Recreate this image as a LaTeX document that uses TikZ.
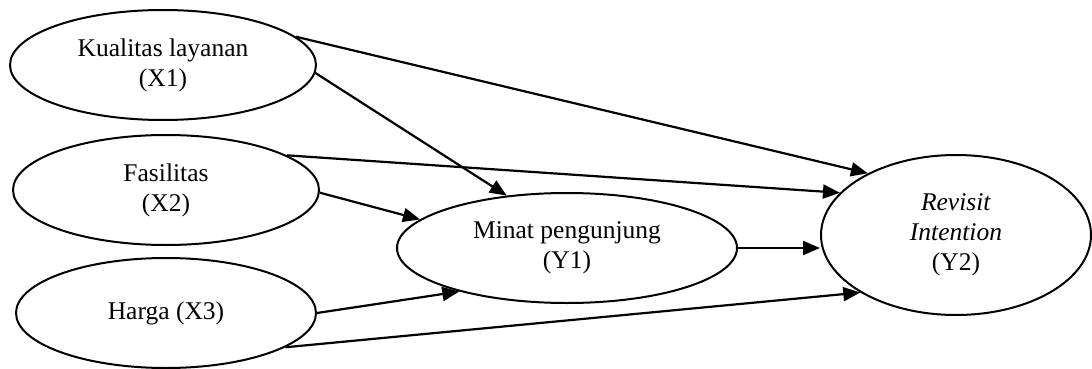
\documentclass[tikz,border=0pt]{standalone}
\usepackage{fontspec}
\setmainfont{Liberation Serif}
\usetikzlibrary{shapes.geometric,arrows.meta}
\tikzset{
  var/.style={draw, ellipse, line width=2pt, inner sep=0pt, align=center,
    font=\fontsize{25.5}{30}\selectfont},
  path/.style={line width=2.2pt, -{Triangle[length=17pt,width=14pt]}}
}
\begin{document}
\begin{tikzpicture}[x=1pt,y=-1pt]
\useasboundingbox (0,0) rectangle (1092,369);
\node[var, minimum width=306pt, minimum height=110pt] (x1) at (163,65) {Kualitas layanan\\(X1)};
\node[var, minimum width=306pt, minimum height=110pt] (x2) at (166,190) {Fasilitas\\(X2)};
\node[var, minimum width=300pt, minimum height=110pt] (x3) at (166,313) {Harga (X3)};
\node[var, minimum width=340pt, minimum height=110pt] (y1) at (567,248) {Minat pengunjung\\(Y1)};
\node[var, minimum width=270pt, minimum height=160pt] (y2) at (956,235) {\textit{Revisit}\\\textit{Intention}\\(Y2)};
\draw[path] (x1.12.6) -- (y2.145.9);
\draw[path] (x1.-3.8) -- (y1.139.3);
\draw[path] (x2.16.4) -- (y2.160.1);
\draw[path] (x2.-1.1) -- (y1.169.8);
\draw[path] (y1.east) -- (y1.east -| y2.west);
\draw[path] (x3.east) -- (y1.-158.2);
\draw[path] (x3.-16.7) -- (y2.-149.8);
\end{tikzpicture}
\end{document}
